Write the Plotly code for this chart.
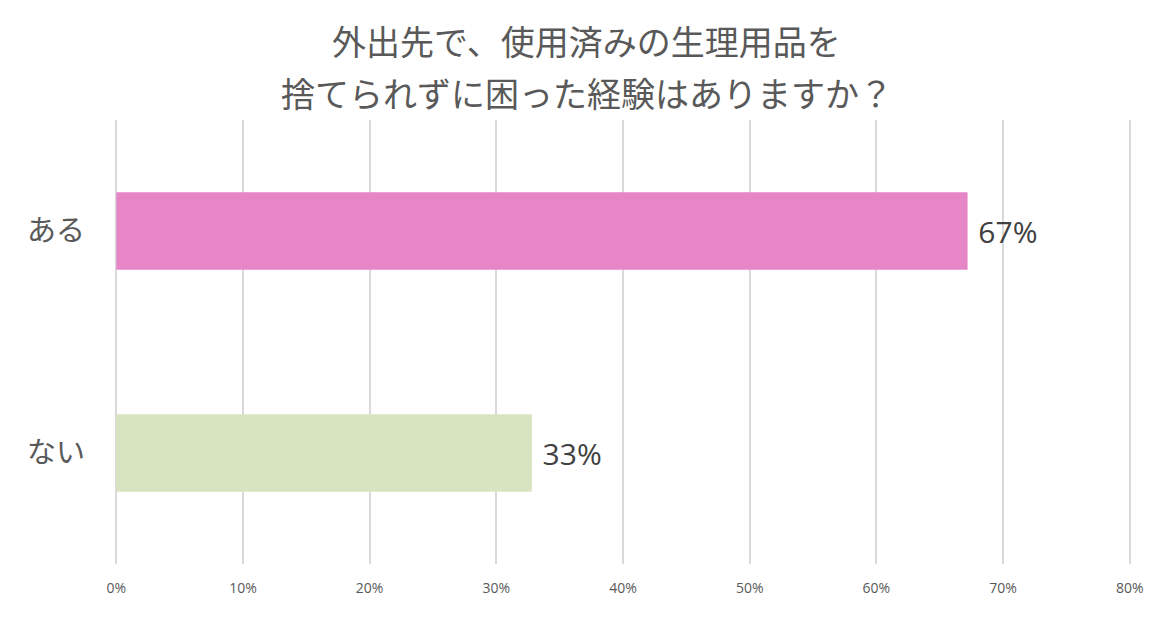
import plotly.graph_objects as go

# 回答データ
categories = ["ある", "ない"]
shares = [0.672, 0.328]
bar_colors = ["#E686C6", "#D8E4BF"]
x_ticks = [0, 0.1, 0.2, 0.3, 0.4, 0.5, 0.6, 0.7, 0.8]

title_lines = ["外出先で、使用済みの生理用品を", "捨てられずに困った経験はありますか？"]
jp_font = "Noto Sans CJK JP"

fig = go.Figure()

fig.add_trace(go.Bar(
    x=shares,
    y=categories,
    orientation="h",
    marker=dict(color=bar_colors, line=dict(width=0)),
    width=0.35,
    texttemplate=" %{x:.0%}",
    textposition="outside",
    textfont=dict(family="Open Sans", size=30, color="#404040"),
    cliponaxis=False,
    hoverinfo="skip",
))

# タイトルは2行を別々に配置（行間を合わせるため）、図全体の中央に
for line, ypos in zip(title_lines, [1.18, 1.061]):
    fig.add_annotation(
        text=line,
        xref="paper", yref="paper",
        x=0.4645, y=ypos,
        xanchor="center", yanchor="middle",
        showarrow=False,
        font=dict(family=jp_font, size=34, color="#595959"),
    )

fig.update_layout(
    width=1173, height=640,
    margin=dict(l=107, r=50, t=112, b=84, autoexpand=False),
    plot_bgcolor="white",
    paper_bgcolor="white",
    showlegend=False,
    xaxis=dict(
        # 端のグリッド線(0%, 80%)も描かれるよう少しだけ広げる
        range=[-0.001, 0.801],
        tickvals=x_ticks,
        tickformat=".0%",
        showgrid=True,
        gridcolor="#D9D9D9",
        gridwidth=2,
        zeroline=False,
        showline=False,
        ticks="",
        tickfont=dict(family="Open Sans", size=14, color="#595959"),
        ticklabelstandoff=14,
        fixedrange=True,
    ),
    yaxis=dict(
        categoryorder="array",
        categoryarray=categories,
        autorange="reversed",
        showgrid=False,
        zeroline=False,
        showline=False,
        ticks="",
        tickfont=dict(family=jp_font, size=29, color="#595959"),
        ticklabelstandoff=29,
        fixedrange=True,
    ),
)

fig.write_html("out.html")
